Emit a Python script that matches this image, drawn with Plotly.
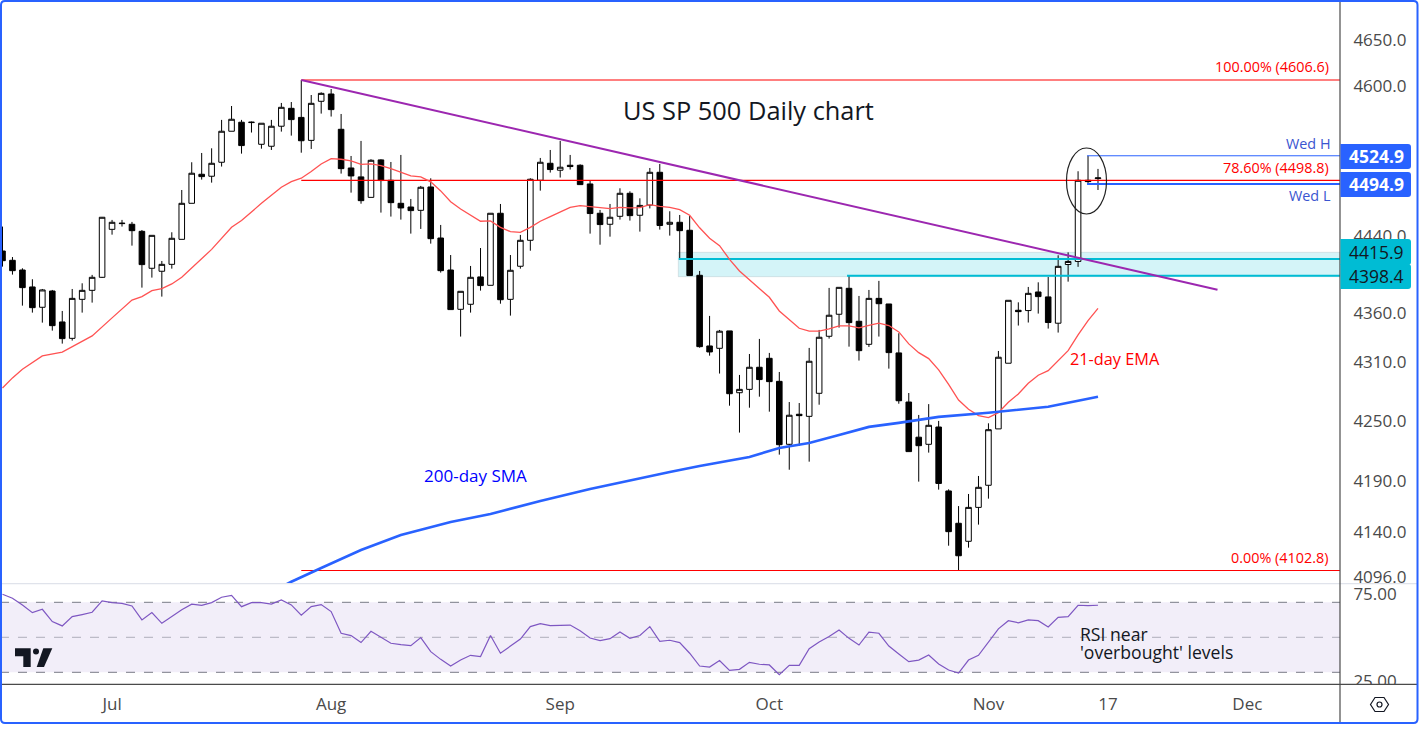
import math
import plotly.graph_objects as go

W, H = 1421, 729
AX_X, SEP_Y, BOT_Y, BORDER_Y, BORDER_R = 1340, 583.7, 684.3, 723, 1417

bars = list(range(111))
opens = [4424.3,4414.6,4404.5,4386.9,4365.9,4382.7,4350.8,4334.0,4374.1,4383.4,4396.9,4447.0,4453.0,4452.3,4444.9,4406.3,4403.2,4410.4,4436.5,4474.4,
4505.2,4503.1,4518.0,4551.2,4560.9,4560.5,4537.2,4535.1,4556.6,4575.9,4566.1,4541.4,4583.5,4591.4,4553.3,4511.9,4502.4,4480.7,4520.5,4498.8,
4474.4,4470.5,4467.0,4491.7,4437.9,4404.5,4363.8,4369.0,4397.3,4388.6,4463.9,4374.1,4408.4,4435.5,4498.8,4516.9,4509.5,4514.8,4514.8,4494.9,
4463.9,4452.3,4460.7,4485.0,4461.8,4472.5,4507.3,4452.3,4454.4,4446.0,4399.0,4326.2,4323.8,4341.6,4278.7,4282.1,4304.5,4313.6,4290.2,4226.9,
4257.0,4254.9,4278.1,4336.1,4358.7,4385.5,4351.5,4327.9,4375.1,4369.3,4319.1,4269.3,4234.0,4226.9,4244.2,4180.6,4148.8,4131.2,4164.4,4186.2,
4242.3,4308.6,4362.8,4362.5,4381.7,4376.6,4349.5,4410.2,4413.4,4498.8,4500.6]
closes = [4414.2,4403.8,4386.2,4365.5,4383.8,4347.0,4333.7,4375.1,4383.4,4396.9,4459.7,4454.4,4453.4,4445.6,4410.1,4440.7,4410.4,4437.6,4474.4,4506.3,
4502.7,4516.9,4551.2,4564.1,4535.8,4560.9,4559.8,4556.6,4577.0,4563.7,4541.0,4581.3,4592.1,4574.5,4511.2,4503.4,4477.2,4520.1,4498.5,4475.1,
4469.5,4466.7,4491.4,4437.2,4403.8,4363.5,4382.4,4396.9,4388.3,4463.9,4373.7,4404.2,4435.5,4499.9,4518.0,4510.2,4512.7,4513.4,4494.2,4463.6,
4452.0,4459.7,4485.0,4461.4,4472.2,4507.3,4451.0,4454.4,4445.6,4398.7,4325.5,4320.1,4341.3,4277.7,4282.1,4304.5,4292.0,4289.9,4226.5,4256.0,
4255.6,4310.6,4335.1,4357.7,4386.5,4350.1,4321.4,4375.1,4369.6,4319.4,4270.6,4219.6,4225.5,4245.9,4188.0,4140.6,4117.1,4164.4,4184.2,4241.5,
4314.7,4373.1,4361.4,4380.3,4376.9,4350.2,4408.3,4413.4,4498.8,4497.4,4501.3]
highs = [4449.9,4418.0,4406.3,4394.9,4384.8,4383.8,4362.1,4384.8,4390.7,4399.4,4460.0,4456.9,4456.9,4454.8,4446.3,4440.7,4413.9,4443.9,4488.5,4518.0,
4527.9,4532.9,4563.4,4578.4,4563.4,4561.6,4559.8,4563.4,4581.7,4582.7,4606.6,4590.3,4593.2,4596.8,4569.8,4524.7,4540.8,4521.2,4521.2,4518.3,
4525.8,4479.0,4492.8,4500.9,4451.6,4420.1,4382.4,4408.7,4427.4,4463.9,4473.7,4420.1,4441.1,4500.9,4522.6,4531.1,4540.8,4525.8,4515.8,4498.5,
4467.4,4473.7,4490.3,4487.1,4479.7,4511.9,4516.2,4466.0,4462.1,4461.1,4403.5,4357.0,4342.6,4341.6,4296.7,4318.0,4333.4,4319.1,4299.7,4269.3,
4268.3,4324.2,4342.6,4385.9,4386.5,4398.3,4377.6,4383.8,4393.2,4369.3,4339.2,4278.4,4256.3,4267.2,4250.3,4182.2,4165.7,4177.6,4195.4,4247.9,
4321.1,4373.1,4371.0,4386.9,4391.7,4397.2,4419.8,4422.9,4508.4,4524.9,4510.9]
lows = [4408.0,4399.7,4367.6,4360.4,4350.1,4341.9,4328.6,4331.7,4360.4,4370.7,4396.2,4441.4,4449.9,4429.9,4386.2,4396.6,4376.9,4405.9,4436.5,4474.4,
4499.5,4496.3,4513.4,4551.2,4527.2,4549.8,4532.5,4531.1,4550.8,4546.5,4528.2,4532.2,4570.2,4567.0,4505.9,4485.7,4474.0,4480.7,4464.6,4460.4,
4457.2,4442.5,4447.4,4432.0,4401.8,4363.5,4335.8,4360.4,4383.1,4388.6,4369.6,4357.3,4405.9,4424.6,4487.8,4507.0,4501.7,4510.2,4494.2,4442.5,
4430.9,4439.3,4457.2,4456.2,4444.6,4469.0,4446.7,4440.4,4416.0,4398.7,4324.4,4316.3,4298.1,4265.6,4238.6,4263.6,4274.7,4259.6,4216.6,4201.6,
4225.5,4209.6,4266.6,4333.7,4345.0,4325.5,4311.3,4325.2,4335.8,4303.1,4267.6,4219.6,4189.8,4218.6,4181.9,4126.9,4102.8,4125.0,4147.5,4173.0,
4242.3,4308.6,4347.1,4350.2,4359.4,4344.0,4339.9,4392.4,4407.8,4494.9,4488.5]

ema_bars = [0,1,2,4,6,9,11,13,14,15,16,17,18,20,21,23,24,26,28,29,30,31,32,33,34,35,36,37,38,39,40,41,42,43,44,45,46,47,48,49,50,51,52,53,54,55,56,57,58,59,60,61,62,63,64,65,66,67,68,69,70,71,72,73,74,75,76,77,78,79,80,81,82,83,84,85,86,87,88,89,90,91,92,93,94,95,96,97,98,99,100,101,102,103,104,105,106,107,108,109,110]
ema = [4283.5,4293.7,4302.5,4316.0,4320.0,4336.5,4355.0,4373.4,4376.9,4383.1,4385.2,4390.0,4396.9,4416.6,4426.0,4449.2,4456.2,4474.4,4491.4,4497.4,4501.0,4508.1,4516.2,4521.9,4521.2,4519.5,4515.8,4516.2,4514.4,4511.2,4507.3,4503.4,4502.4,4497.1,4487.5,4476.1,4468.4,4462.1,4455.5,4455.8,4449.1,4444.6,4443.9,4449.1,4455.5,4460.4,4465.6,4470.2,4471.9,4470.9,4469.5,4468.8,4470.2,4469.5,4469.8,4473.0,4471.2,4470.2,4467.8,4461.8,4448.6,4437.6,4429.9,4415.6,4403.5,4394.2,4384.5,4376.2,4362.1,4352.9,4344.3,4341.3,4341.3,4343.6,4346.7,4346.7,4344.7,4347.4,4349.5,4347.1,4340.6,4328.3,4319.4,4313.3,4301.8,4287.2,4271.3,4262.0,4255.6,4253.6,4258.6,4269.0,4277.4,4288.2,4296.4,4301.1,4311.3,4321.4,4337.5,4352.2,4364.8]
sma_bars = [28,29,32,36,40,45,49,54,59,64,67,70,75,78,81,84,87,90,94,99,105,107,110]
sma = [4086.9,4091.9,4105.2,4122.7,4137.4,4150.1,4157.9,4170.6,4182.5,4193.4,4199.4,4205.4,4214.3,4223.2,4228.2,4236.2,4244.3,4248.3,4254.4,4258.5,4264.6,4268.6,4274.7]
rsi = [74.6,72.3,68.5,64.1,66.0,59.0,56.5,61.8,63.0,64.3,70.8,69.8,69.4,67.9,59.9,64.1,58.0,61.8,65.8,68.9,68.3,69.8,72.9,74.0,67.5,69.8,69.8,69.0,71.3,68.5,
62.6,67.5,68.7,64.7,52.3,51.0,47.0,53.4,50.0,46.6,45.8,45.2,49.8,41.8,37.4,33.6,37.0,39.7,39.0,51.0,40.9,45.0,49.0,56.1,57.8,56.7,57.0,57.0,53.8,49.6,
48.1,49.2,53.0,49.4,51.0,56.1,47.7,48.3,47.0,40.9,33.6,33.0,36.7,31.1,31.7,35.7,34.6,34.2,28.7,34.0,34.0,43.5,47.3,50.4,54.2,49.4,45.6,52.9,52.3,45.0,
40.5,36.1,37.0,39.9,34.8,31.3,29.6,37.0,39.7,47.5,54.8,59.5,58.3,59.9,59.5,55.9,61.4,61.8,68.3,68.1,68.3]

fib_levels = [4606.6, 4498.8, 4102.8]
fib_start = 30
wed_high, wed_low = 4524.9, 4494.9
wed_start = 109
zone_hi, zone_lo = 4415.9, 4398.4
zone_hi_start, zone_lo_start = 68, 85
trend_bars = [30, 122]
trend_prices = [4606.6, 4384.1]
price_ticks = [4650, 4600, 4440, 4360, 4310, 4250, 4190, 4140, 4096]
rsi_ticks = [75, 25]
month_bars = [11, 33, 56, 77, 99, 111, 125]
month_labels = ["Jul", "Aug", "Sep", "Oct", "Nov", "17", "Dec"]

X0_PX, DX = 2.5, 9.959
x_range = [-X0_PX / DX, (AX_X - X0_PX) / DX]
def py_price(y):
    return 4606.6 * math.exp(-(y - 80) / 4235)
y_range = [math.log10(py_price(SEP_Y)), math.log10(py_price(0))]
r_range = [30 - (BOT_Y - 672.3) / 1.75, 70 + (602.3 - 584.0) / 1.75]

FONT = "Open Sans"
def fx(x): return x / W
def fy(y): return 1 - y / H

fig = go.Figure()
RED = "#ff0000"; TEAL = "#00bcd4"; BLUE = "#2962ff"; GREY = "#4a4a4a"

def hline(y, start, color, width, xend=x_range[1]):
    fig.add_trace(go.Scatter(x=[start, xend], y=[y, y], mode="lines", line=dict(color=color, width=width), hoverinfo="skip"))

for lvl in fib_levels:
    hline(lvl, fib_start, RED, 1.2)
hline(zone_hi, zone_hi_start - 0.1, TEAL, 2)
hline(zone_lo, zone_lo_start - 0.2, TEAL, 2)
hline(wed_high, wed_start - 0.1, BLUE, 1)
hline(wed_low, wed_start - 0.1, BLUE, 2)

fig.add_trace(go.Scatter(x=ema_bars, y=ema, mode="lines", line=dict(color="#ff5252", width=1.3), hoverinfo="skip"))
fig.add_trace(go.Scatter(x=sma_bars, y=sma, mode="lines", line=dict(color=BLUE, width=2.6), hoverinfo="skip"))
fig.add_trace(go.Candlestick(x=bars, open=opens, high=highs, low=lows, close=closes,
    increasing=dict(line=dict(color="#000000", width=1), fillcolor="#ffffff"),
    decreasing=dict(line=dict(color="#000000", width=1), fillcolor="#000000"),
    whiskerwidth=0, hoverinfo="skip"))
fig.add_trace(go.Scatter(x=trend_bars, y=trend_prices, mode="lines", line=dict(color="#9c27b0", width=2), hoverinfo="skip"))

fig.add_trace(go.Scatter(x=bars, y=rsi, mode="lines", xaxis="x2", yaxis="y2", line=dict(color="#7e57c2", width=1.2), hoverinfo="skip"))

shapes = []
def rect(x0, y0, x1, y1, fill, layer="above", line=None):
    shapes.append(dict(type="rect", xref="paper", yref="paper", x0=fx(x0), x1=fx(x1), y0=fy(y0), y1=fy(y1),
        fillcolor=fill, line=line or dict(width=0), layer=layer))
def hl(x0, x1, y, color, width=1, dash="solid", layer="above"):
    shapes.append(dict(type="line", xref="paper", yref="paper", x0=fx(x0), x1=fx(x1), y0=fy(y), y1=fy(y),
        line=dict(color=color, width=width, dash=dash), layer=layer))
def vl(x, y0, y1, color, width=1):
    shapes.append(dict(type="line", xref="paper", yref="paper", x0=fx(x), x1=fx(x), y0=fy(y0), y1=fy(y1),
        line=dict(color=color, width=width), layer="above"))
def poly(pts, fill=None, line=None):
    p = "M " + " L ".join(f"{fx(a):.5f},{fy(b):.5f}" for a, b in pts) + " Z"
    shapes.append(dict(type="path", xref="paper", yref="paper", path=p, fillcolor=fill or "rgba(0,0,0,0)", line=line or dict(width=0), layer="above"))
def rounded(x0, y0, x1, y1, r, fill, line=None, corners=(1, 1, 1, 1)):
    tl, tr, br, bl = [r * c for c in corners]
    P = lambda a, b: f"{fx(a):.5f},{fy(b):.5f}"
    p = (f"M {P(x0+tl,y0)} L {P(x1-tr,y0)} Q {P(x1,y0)} {P(x1,y0+tr)} L {P(x1,y1-br)} Q {P(x1,y1)} {P(x1-br,y1)} "
         f"L {P(x0+bl,y1)} Q {P(x0,y1)} {P(x0,y1-bl)} L {P(x0,y0+tl)} Q {P(x0,y0)} {P(x0+tl,y0)} Z")
    shapes.append(dict(type="path", xref="paper", yref="paper", path=p, fillcolor=fill, line=line or dict(width=0), layer="above"))

rect(678.3, 252.3, AX_X, 276.7, "rgba(0,188,212,0.17)", layer="below", line=dict(color="rgba(120,123,134,0.18)", width=1))
rect(0, 602.3, AX_X, 672.3, "rgba(126,87,194,0.10)", layer="below")
hl(0, AX_X, 602.3, "#787b86", 1, "dash", layer="below")
hl(0, AX_X, 637.3, "rgba(120,123,134,0.55)", 1, "dash", layer="below")
hl(0, AX_X, 672.3, "#787b86", 1, "dash", layer="below")
shapes.append(dict(type="circle", xref="paper", yref="paper", x0=fx(1066.5), x1=fx(1106.5), y0=fy(214), y1=fy(148),
    line=dict(color="#222222", width=1.2), fillcolor="rgba(0,0,0,0)", layer="above"))
rect(AX_X + 0.5, BOT_Y, BORDER_R, BORDER_Y, "#ffffff")
hl(0, BORDER_R, SEP_Y, "#e0e3eb", 1.2)
hl(0, BORDER_R, BOT_Y, GREY, 1.2)
vl(AX_X, 0, BORDER_Y, GREY, 1.2)
rounded(1, 1, BORDER_R + 0.5, BORDER_Y, 4, "rgba(0,0,0,0)", dict(color=BLUE, width=2))

rounded(AX_X + 0.5, 144, 1411, 169, 3, BLUE, corners=(0, 1, 1, 0))
rounded(AX_X + 0.5, 172, 1411, 197, 3, BLUE, corners=(0, 1, 1, 0))
rounded(AX_X + 0.5, 239, 1411, 265, 3, TEAL, corners=(0, 1, 1, 0))
rounded(AX_X + 0.5, 264, 1411, 289, 3, TEAL, corners=(0, 1, 1, 0))

poly([(15,648.3),(30.7,648.3),(30.7,667),(23.3,667),(23.3,656.2),(15,656.2)], "#131722")
poly([(43.3,648.3),(52.3,648.3),(44,667),(36.7,667)], "#131722")
shapes.append(dict(type="circle", xref="paper", yref="paper", x0=fx(33), x1=fx(39), y0=fy(654.5), y1=fy(648.5), fillcolor="#131722", line=dict(width=0), layer="above"))
poly([(1370.5,704.5),(1375,697.5),(1384,697.5),(1388.5,704.5),(1384,711.5),(1375,711.5)], None, dict(color="#131722", width=1.2))
shapes.append(dict(type="circle", xref="paper", yref="paper", x0=fx(1377), x1=fx(1382), y0=fy(707), y1=fy(702), line=dict(color="#131722", width=1.2), fillcolor="rgba(0,0,0,0)", layer="above"))

ann = []
def text(s, x, y, size, color, anchor="left", weight=None):
    ann.append(dict(text=s, xref="paper", yref="paper", x=fx(x), y=fy(y), xanchor=anchor, yanchor="middle", showarrow=False,
        font=dict(family=FONT, size=size, color=color, weight=weight or 400)))
text("US SP 500 Daily chart", 748, 110, 25.4, "#131722", "center", 500)
text("100.00% (4606.6)", 1331, 67, 14.4, RED, "right")
text("78.60% (4498.8)", 1331, 167, 14.4, RED, "right")
text("0.00% (4102.8)", 1331, 557, 14.4, RED, "right")
text("Wed H", 1333, 143, 14.4, "#3a55d0", "right")
text("Wed L", 1333, 196, 14.4, "#3a55d0", "right")
text("21-day EMA", 1068, 359, 16.3, RED)
text("200-day SMA", 422, 475, 17, "#0000ff")
text("RSI near", 1078, 634, 17.6, "#131722")
text("'overbought' levels", 1078, 652, 17.6, "#131722")
text("4524.9", 1376, 156, 17.5, "#ffffff", "center", 700)
text("4494.9", 1376, 184, 17.5, "#ffffff", "center", 700)
text("4415.9", 1376, 251.5, 17.5, "#131722", "center", 500)
text("4398.4", 1376, 276, 17.5, "#131722", "center", 500)

ticks = dict(color=GREY, family=FONT, size=17)
fig.update_layout(
    autosize=False, width=W, height=H, margin=dict(l=0, r=0, t=0, b=0, pad=0, autoexpand=False), showlegend=False, boxgap=0.2,
    paper_bgcolor="#ffffff", plot_bgcolor="rgba(0,0,0,0)", shapes=shapes, annotations=ann,
    xaxis=dict(domain=[0, AX_X / W], range=x_range, anchor="y", rangeslider=dict(visible=False), showticklabels=False, showgrid=False, zeroline=False, ticks=""),
    xaxis2=dict(domain=[0, AX_X / W], range=x_range, anchor="y2", tickmode="array", tickvals=month_bars, ticktext=month_labels,
        tickfont=ticks, showgrid=False, zeroline=False, ticks="outside", ticklen=4, tickcolor="rgba(0,0,0,0)"),
    yaxis=dict(domain=[1 - SEP_Y / H, 1], type="log", range=y_range, side="right", anchor="x", tickmode="array", tickvals=price_ticks,
        ticktext=[f"{t:.1f}" for t in price_ticks], tickfont=ticks, showgrid=False, zeroline=False, ticks="outside", ticklen=9, tickcolor="rgba(0,0,0,0)"),
    yaxis2=dict(domain=[1 - BOT_Y / H, 1 - 584.0 / H], range=r_range, side="right", anchor="x2", tickmode="array", tickvals=rsi_ticks,
        ticktext=[f"{t:.2f}" for t in rsi_ticks], tickfont=ticks, showgrid=False, zeroline=False, ticks="outside", ticklen=9, tickcolor="rgba(0,0,0,0)"),
)
fig.write_html("out.html", config={"displayModeBar": False}, post_script="document.body.style.margin='0';document.documentElement.style.overflow='hidden';")
